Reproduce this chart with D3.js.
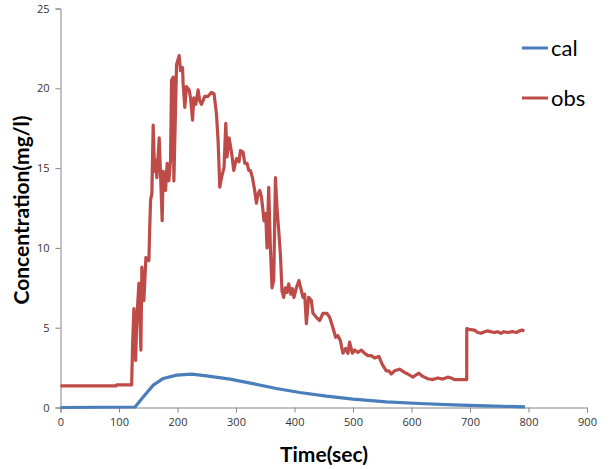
<!DOCTYPE html>
<html lang="en">
<head>
<meta charset="utf-8" />
<title>concentration</title>
<script src="https://d3js.org/d3.v7.min.js"></script>
<style>
  body { margin: 0; background: #fff; }
  .tick text { font-family: "Open Sans", "Noto Sans", sans-serif; font-size: 11px; fill: #333; }
  .axis path, .axis line { stroke: #868686; }
</style>
</head>
<body>
<div id="chart"></div>
<script>
// time (sec) and concentration (mg/l)
var calTime = [0, 127.5, 141.7, 158.6, 175.7, 198.5, 224, 249.6, 289.7, 329, 369, 409, 454.6, 500, 557, 614, 671, 728, 794];
var calValue = [0, 0.03, 0.67, 1.4, 1.82, 2.03, 2.09, 1.98, 1.78, 1.5, 1.19, 0.94, 0.71, 0.52, 0.35, 0.25, 0.16, 0.1, 0.04];

var obsTime = [0, 95, 96, 121.6, 123.3, 125.5, 128.4, 130.6, 134.0, 137.4, 139.1, 142.5, 146.0, 151.1, 152.3, 154.0,
  156.2, 158.4, 160.8, 163.0, 164.7, 168.7, 171.6, 173.8, 175.5, 179.6, 182.3, 185.2, 188.1, 189.8, 192.6, 193.8,
  198.4, 202.8, 205.2, 208.6, 209.6, 212.5, 215.4, 219.9, 222.3, 225.7, 227.9, 231.3, 235.2, 238.1, 241.0, 246.7,
  252.3, 258.1, 262.5, 266.6, 269.4, 272.3, 275.2, 279.6, 282.5, 284.7, 288.2, 292.3, 296.2, 300.8, 305.2, 307.6,
  312.1, 315.0, 318.9, 321.8, 324.7, 328.1, 332.0, 334.9, 337.7, 340.6, 343.5, 346.2, 347.9, 350.8, 353.0, 355.9,
  358.8, 361.6, 364.5, 367.4, 370.1, 373.0, 375.9, 378.6, 381.5, 384.4, 387.2, 390.1, 393.5, 396.4, 399.1, 403.2,
  407.6, 410.6, 414.5, 417.4, 420.3, 424.2, 428.8, 431.6, 437.3, 443.0, 448.6, 455.4, 460.1, 465.7, 470.3, 474.2,
  478.3, 482.8, 487.4, 491.3, 494.2, 498.8, 502.7, 508.4, 514.2, 519.8, 525.4, 531.2, 536.9, 544.2, 550.0, 556.9,
  561.3, 565.4, 571.0, 579.6, 588.1, 593.7, 602.3, 608.1, 612.5, 619.3, 627.9, 636.4, 644.9, 653.5, 662.0, 667.8,
  673.4, 682.0, 694.4, 694.5, 697.8, 707.6, 713.2, 719.0, 724.7, 730.3, 735, 741.7, 747, 753.2, 758, 764.4,
  773.0, 779.8, 784.4, 789.0, 793.0];
var obsValue = [1.35, 1.35, 1.42, 1.42, 4.0, 6.2, 2.95, 5.6, 7.8, 3.6, 8.8, 6.7, 9.4, 9.2, 11.0, 13.0,
  13.4, 17.7, 14.8, 15.5, 14.4, 16.9, 14.0, 11.7, 14.8, 13.6, 15.3, 14.2, 15.5, 20.5, 20.7, 14.2,
  21.5, 22.05, 21.1, 21.3, 20.3, 18.8, 20.1, 19.9, 19.4, 18.0, 19.4, 19.0, 19.9, 19.2, 19.0, 19.5,
  19.5, 19.75, 19.65, 18.4, 16.7, 13.8, 14.4, 15.05, 17.8, 15.7, 16.9, 16.0, 14.85, 15.6, 15.4, 16.1,
  16.0, 15.3, 15.3, 14.85, 14.85, 14.4, 13.6, 12.8, 13.4, 13.6, 13.2, 12.3, 11.7, 12.15, 10.0, 13.8,
  10.0, 7.5, 8.0, 14.4, 12.5, 11.1, 9.6, 7.3, 6.9, 7.5, 7.2, 7.75, 7.1, 7.45, 6.9, 7.5,
  7.95, 7.5, 6.9, 7.1, 5.25, 6.9, 6.7, 5.9, 5.65, 5.45, 5.9, 5.9, 5.65, 5.0, 4.4, 4.5,
  4.2, 3.4, 3.7, 3.4, 4.1, 3.4, 3.6, 3.45, 3.6, 3.4, 3.25, 3.25, 3.1, 3.2, 2.7, 2.3,
  2.3, 2.1, 2.3, 2.4, 2.2, 2.1, 1.9, 2.05, 2.15, 1.95, 1.8, 1.75, 1.85, 1.78, 1.9, 1.85,
  1.75, 1.75, 1.75, 4.95, 4.9, 4.85, 4.7, 4.65, 4.75, 4.8, 4.75, 4.7, 4.75, 4.65, 4.75, 4.7,
  4.75, 4.7, 4.8, 4.85, 4.8];

var seriesNames = ["cal", "obs"];
var seriesColors = ["#4a7ebb", "#be4b48"];
var xTicks = [0, 100, 200, 300, 400, 500, 600, 700, 800, 900];
var yTicks = [0, 5, 10, 15, 20, 25];

var svg = d3.select("#chart").append("svg")
  .attr("width", 610)
  .attr("height", 469);

var xScale = d3.scaleLinear().domain([0, 900]).range([60.5, 587]);
var yScale = d3.scaleLinear().domain([0, 25]).range([407.5, 8.5]);

// y axis
svg.append("g")
  .attr("class", "axis")
  .attr("transform", "translate(60.5,0)")
  .call(d3.axisLeft(yScale).tickValues(yTicks).tickSize(5).tickPadding(6));

// x axis
svg.append("g")
  .attr("class", "axis")
  .attr("transform", "translate(0,407.5)")
  .call(d3.axisBottom(xScale).tickValues(xTicks).tickSize(5).tickPadding(6));

var line = d3.line()
  .x(function(d){ return xScale(d[0]); })
  .y(function(d){ return yScale(d[1]); });

var calData = d3.zip(calTime, calValue);
var obsData = d3.zip(obsTime, obsValue);

svg.append("path")
  .datum(calData)
  .attr("d", line)
  .attr("fill", "none")
  .attr("stroke", seriesColors[0])
  .attr("stroke-width", 3.2)
  .attr("stroke-linejoin", "round");

svg.append("path")
  .datum(obsData)
  .attr("d", line)
  .attr("fill", "none")
  .attr("stroke", seriesColors[1])
  .attr("stroke-width", 3.2)
  .attr("stroke-linejoin", "round");

// axis titles
svg.append("text")
  .attr("transform", "translate(29,210) rotate(-90)")
  .attr("text-anchor", "middle")
  .style("font-family", "Lato, 'Open Sans', sans-serif")
  .style("font-weight", "bold")
  .style("font-size", "21px")
  .text("Concentration(mg/l)");

svg.append("text")
  .attr("x", 324)
  .attr("y", 462)
  .attr("text-anchor", "middle")
  .style("font-family", "Lato, 'Open Sans', sans-serif")
  .style("font-weight", "bold")
  .style("font-size", "21px")
  .text("Time(sec)");

// legend
var legend = svg.append("g");
seriesNames.forEach(function(name, i){
  var y = 48 + i * 50;
  legend.append("line")
    .attr("x1", 522).attr("x2", 548)
    .attr("y1", y).attr("y2", y)
    .attr("stroke", seriesColors[i])
    .attr("stroke-width", 3);
  legend.append("text")
    .attr("x", 551)
    .attr("y", y + 8)
    .style("font-family", "Lato, 'Open Sans', sans-serif")
    .style("font-size", "22px")
    .style("fill", "#000")
    .text(name);
});
</script>
</body>
</html>
